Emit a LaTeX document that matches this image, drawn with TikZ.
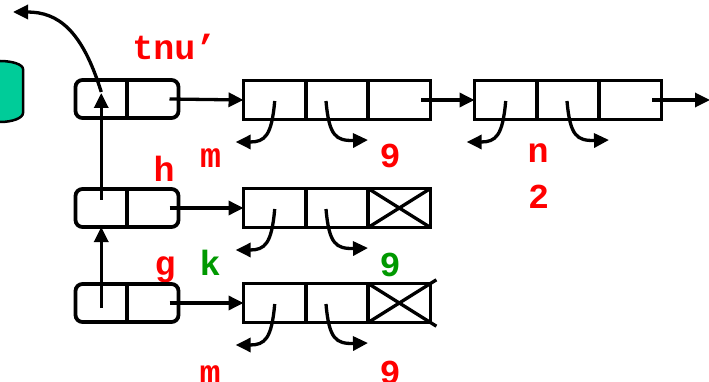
\documentclass[tikz,border=0pt]{standalone}
\usepackage{fontspec}
\newfontfamily\consfont{Liberation Mono}
\usetikzlibrary{arrows.meta, fit, positioning}

\definecolor{symred}{RGB}{255,0,0}
\definecolor{symgreen}{RGB}{0,153,0}
\definecolor{diskgreen}{RGB}{0,204,153}

\begin{document}
\begin{tikzpicture}[x=1pt, y=-1pt, line width=3.3pt,
    consbox/.style={draw, line width=3.8pt, minimum width=62.3pt, minimum height=39pt, inner sep=0pt, outer sep=0pt},
    halfbox/.style={minimum width=51.5pt, minimum height=38pt, inner sep=0pt, outer sep=0pt},
    pairbox/.style={draw, line width=3.8pt, fill=white, rounded corners=7pt, inner sep=0pt, outer sep=0pt},
    sym/.style={font=\consfont\bfseries\fontsize{35}{35}\selectfont, text=symred, inner sep=0pt, anchor=base}]
\useasboundingbox (0,0) rectangle (709,382);
\clip (0,0) rectangle (709,382);

% disk on the left edge
\draw[fill=diskgreen, line width=2.5pt] (23,69) -- (23,113)
    arc[start angle=0, end angle=180, x radius=23, y radius=9] -- (-23,69)
    arc[start angle=180, end angle=360, x radius=23, y radius=8] -- cycle;

\begin{scope}[every node/.style={sym}]
    \node (tnu-lab) at (174.5, 60) {tnu’};
    \node (m-top)   at (210.5, 168) {m};
    \node (nine-top) at (390, 168) {9};
    \node (n-lab)   at (538, 163) {n};
    \node (two-lab) at (538.5, 208) {2};
    \node (h-lab)   at (164, 182) {h};
    \node (g-lab)   at (165, 275) {g};
    \node (k-lab)   at (210, 275) [text=symgreen] {k};
    \node (nine-mid) at (390, 276) [text=symgreen] {9};
    \node (m-bot)   at (210, 384) {m};
    \node (nine-bot) at (390, 384) {9};
\end{scope}

% frames tnu', h and g
\node[halfbox] (tnu-l) at (101.25, 99) {};
\node[halfbox, right=0pt of tnu-l] (tnu-r) {};
\node[pairbox, fit=(tnu-l)(tnu-r)] (tnu) {};
\draw[line width=3.8pt] (tnu-l.north east) -- (tnu-l.south east);

\node[halfbox] (h-l) at (101.25, 208) {};
\node[halfbox, right=0pt of h-l] (h-r) {};
\node[pairbox, fit=(h-l)(h-r)] (h) {};
\draw[line width=3.8pt] (h-l.north east) -- (h-l.south east);

\node[halfbox] (g-l) at (101.25, 303) {};
\node[halfbox, right=0pt of g-l] (g-r) {};
\node[pairbox, fit=(g-l)(g-r)] (g) {};
\draw[line width=3.8pt] (g-l.north east) -- (g-l.south east);

% cons cells
\node[consbox] (top1) at (274.7, 100) {};
\node[consbox, right=0pt of top1] (top2) {};
\node[consbox, right=0pt of top2] (top3) {};

\node[consbox] (nxt1) at (505.7, 100) {};
\node[consbox, right=0pt of nxt1] (nxt2) {};
\node[consbox, right=0pt of nxt2] (nxt3) {};

\node[consbox] (hcell1) at (274.7, 208) {};
\node[consbox, right=0pt of hcell1] (hcell2) {};
\node[consbox, right=0pt of hcell2] (hcell3) {};
\draw (hcell3.north west) -- (hcell3.south east) (hcell3.south west) -- (hcell3.north east);

\node[consbox] (gcell1) at (274.7, 303) {};
\node[consbox, right=0pt of gcell1] (gcell2) {};
\node[consbox, right=0pt of gcell2] (gcell3) {};
\draw[shorten >=-7pt] (gcell3.north west) -- (gcell3.south east);
\draw[shorten >=-7pt] (gcell3.south west) -- (gcell3.north east);

\coordinate (nil) at (710, 100);
\coordinate (link) at (13, 12);

\begin{scope}[>={Triangle[length=15pt, width=14pt]}]
    \path [->] ([xshift=-9pt]tnu.east) edge (top1.west);
    \path [->] ([xshift=-9pt]top3.east) edge (nxt1.west);
    \path [->] ([xshift=-9pt]nxt3.east) edge (nil);
    \path [->] ([xshift=-9pt]h.east) edge (hcell1.west);
    \path [->] ([xshift=-9pt]g.east) edge (gcell1.west);

    \path [->] ([yshift=-5pt]g-l.center) edge (h-l.south);
    \path [->] ([yshift=8pt]h-l.center) edge ([yshift=6pt]tnu-l.center);
    \draw [->] ([yshift=7pt]tnu-l.center) .. controls (82,30) and (58,12) .. (link);

    \foreach \c in {top1, nxt1, hcell1, gcell1}
        \draw [->] ([shift={(0,1)}]\c.center) .. controls ([shift={(-3,36)}]\c.center)
            and ([shift={(-10,42)}]\c.center) .. ([shift={(-39,42)}]\c.center);
    \foreach \c/\dx in {top2/-11, nxt2/-1, hcell2/-11, gcell2/-11}
        \draw [->] ([shift={(\dx,1)}]\c.center) .. controls ([shift={(\dx+3,36)}]\c.center)
            and ([shift={(\dx+10,41)}]\c.center) .. ([shift={(\dx+42,40)}]\c.center);
\end{scope}
\end{tikzpicture}
\end{document}
